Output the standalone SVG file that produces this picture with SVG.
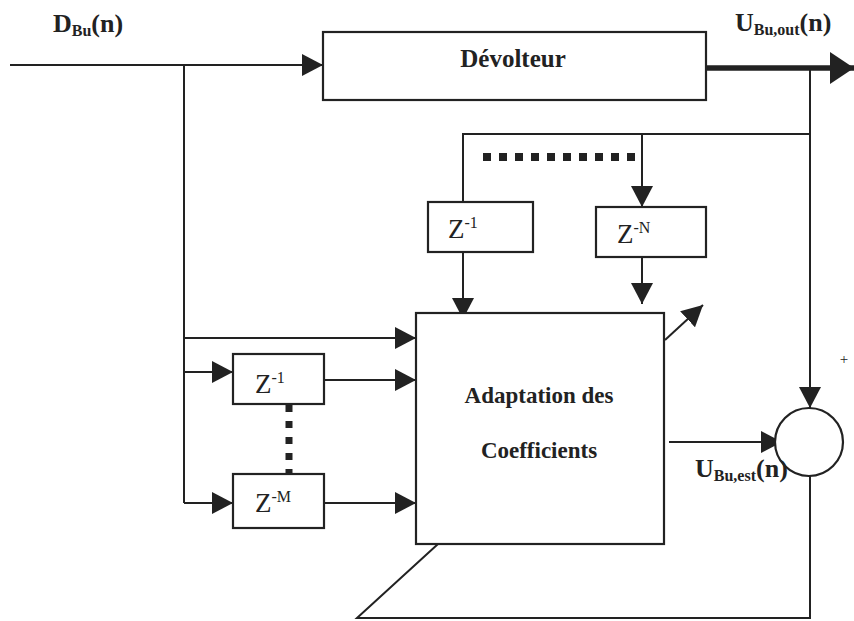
<svg xmlns="http://www.w3.org/2000/svg" width="854" height="621" viewBox="0 0 854 621">
  <style>
    .box { fill: #fff; stroke: #222; stroke-width: 2.2; }
    .wire { fill: none; stroke: #222; stroke-width: 2; }
    .thick { fill: none; stroke: #222; stroke-width: 5.5; }
    .dots { fill: none; stroke: #222; }
    .lbl { font-family: "Liberation Serif", "Times New Roman", serif; font-weight: bold; fill: #222; }
    .zt { font-family: "Liberation Serif", "Times New Roman", serif; fill: #222; }
  </style>
  <defs>
    <marker id="arr" markerUnits="userSpaceOnUse" markerWidth="21" markerHeight="22" refX="21" refY="11" orient="auto">
      <path d="M0,0 L21,11 L0,22 Z" fill="#222"/>
    </marker>
    <marker id="arrBig" markerUnits="userSpaceOnUse" markerWidth="24" markerHeight="32" refX="24" refY="16" orient="auto">
      <path d="M0,0 L24,16 L0,32 Z" fill="#222"/>
    </marker>
  </defs>

  <!-- connectors -->
  <g id="connectors">
    <!-- input D_Bu(n) into the step-down converter -->
    <line class="wire" x1="10" y1="65" x2="323" y2="65" marker-end="url(#arr)"/>
    <!-- input trunk -->
    <line class="wire" x1="184" y1="65" x2="184" y2="503"/>
    <line class="wire" x1="184" y1="338" x2="416" y2="338" marker-end="url(#arr)"/>
    <line class="wire" x1="184" y1="372" x2="233" y2="372" marker-end="url(#arr)"/>
    <line class="wire" x1="324" y1="380" x2="416" y2="380" marker-end="url(#arr)"/>
    <line class="wire" x1="184" y1="503" x2="233" y2="503" marker-end="url(#arr)"/>
    <line class="wire" x1="324" y1="503" x2="416" y2="503" marker-end="url(#arr)"/>
    <!-- vertical delay chain dots -->
    <line class="dots" x1="289" y1="405" x2="289" y2="474" stroke-width="7" stroke-dasharray="7 9"/>

    <!-- output U_Bu,out(n) -->
    <line class="thick" x1="706" y1="68" x2="854" y2="68" marker-end="url(#arrBig)"/>
    <!-- output feedback trunk to summer -->
    <line class="wire" x1="810" y1="68" x2="810" y2="408" marker-end="url(#arr)"/>
    <polyline class="wire" points="810,134 463,134 463,202"/>
    <line class="wire" x1="642" y1="134" x2="642" y2="207" marker-end="url(#arr)"/>
    <!-- horizontal delay chain dots -->
    <line class="dots" x1="483" y1="157" x2="636" y2="157" stroke-width="8" stroke-dasharray="8 8"/>
    <line class="wire" x1="463" y1="252" x2="463" y2="319" marker-end="url(#arr)"/>
    <line class="wire" x1="642" y1="257" x2="642" y2="304" marker-end="url(#arr)"/>

    <!-- coefficient update arrow -->
    <line class="wire" x1="665" y1="340" x2="703" y2="305" marker-end="url(#arr)"/>
    <!-- estimate into summer -->
    <line class="wire" x1="669" y1="442" x2="782" y2="442" marker-end="url(#arr)"/>
    <!-- error feedback -->
    <polyline class="wire" points="810,476 810,618 357,618 438,544"/>
  </g>

  <!-- step-down converter -->
  <g id="devolteur">
    <rect class="box" x="323" y="32" width="383" height="68"/>
    <text class="lbl" x="513" y="67" font-size="25" text-anchor="middle">Dévolteur</text>
  </g>

  <!-- feedback delays -->
  <g id="z1-top">
    <rect class="box" x="428" y="202" width="105" height="50"/>
    <text class="zt" x="448" y="238" font-size="27">Z<tspan font-size="16" dy="-10">-1</tspan></text>
  </g>
  <g id="zN-top">
    <rect class="box" x="596" y="207" width="110" height="50"/>
    <text class="zt" x="617" y="243" font-size="27">Z<tspan font-size="16" dy="-10">-N</tspan></text>
  </g>

  <!-- input delays -->
  <g id="z1-left">
    <rect class="box" x="233" y="354" width="91" height="50"/>
    <text class="zt" x="255" y="393" font-size="27">Z<tspan font-size="16" dy="-10">-1</tspan></text>
  </g>
  <g id="zM-left">
    <rect class="box" x="233" y="474" width="91" height="54"/>
    <text class="zt" x="255" y="512" font-size="27">Z<tspan font-size="16" dy="-10">-M</tspan></text>
  </g>

  <!-- adaptation block -->
  <g id="adaptation">
    <rect class="box" x="416" y="313" width="248" height="231"/>
    <text class="lbl" x="539" y="403" font-size="23" text-anchor="middle">Adaptation des</text>
    <text class="lbl" x="539" y="458" font-size="23" text-anchor="middle">Coefficients</text>
  </g>

  <!-- summer -->
  <g id="summer">
    <circle cx="809" cy="442" r="34" fill="#fff" stroke="#222" stroke-width="2.2"/>
    <text class="zt" x="844" y="364" font-size="15" text-anchor="middle">+</text>
  </g>

  <!-- signal labels -->
  <g id="labels">
    <text class="lbl" x="53" y="32" font-size="26">D<tspan font-size="16" dy="4">Bu</tspan><tspan dy="-4">(n)</tspan></text>
    <text class="lbl" x="735" y="31" font-size="26">U<tspan font-size="16" dy="4">Bu,out</tspan><tspan dy="-4">(n)</tspan></text>
    <text class="lbl" x="695" y="477" font-size="26">U<tspan font-size="16" dy="4">Bu,est</tspan><tspan dy="-4">(n)</tspan></text>
  </g>
</svg>
